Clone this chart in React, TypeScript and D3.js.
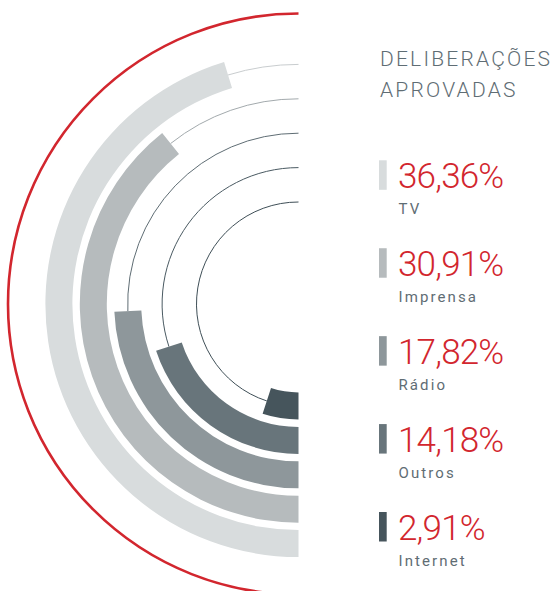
import React from "react";
import * as d3 from "d3";

const categories = ["TV", "Imprensa", "Rádio", "Outros", "Internet"];
const percents = [36.36, 30.91, 17.82, 14.18, 2.91];
const colors = ["#d8dcdd", "#b6bbbd", "#8e979b", "#68757b", "#46555c"];
const lineColors = ["#c9cdcf", "#a3aaad", "#5f6d74", "#4a5a62", "#3f4f57"];
const titleLines = ["DELIBERAÇÕES", "APROVADAS"];

const W = 556;
const H = 591;
const cx = 298.5;
const cy = 304;
const barW = 27;
const redR = 290.5;

const locale = d3.formatLocale({ decimal: ",", thousands: ".", grouping: [3], currency: ["", "€"] });
const fmt = locale.format(".2f");

export default function App() {
  const rScale = d3.scalePoint<string>().domain(categories).range([239.6, 102]);
  const aScale = d3.scalePow().exponent(0.87).domain([0, 40]).range([0, (177 * Math.PI) / 180]);
  const arc = d3.arc<any>();

  const redPath = d3.path();
  redPath.arc(cx, cy, redR, Math.PI / 2, (3 * Math.PI) / 2, false);

  const legendY = d3.scaleLinear().domain([0, 4]).range([188.3, 540]);

  return (
    <svg
      width={W}
      height={H}
      style={{ position: "absolute", left: 0, top: 0, background: "#fff" }}
    >
      <path d={redPath.toString()} fill="none" stroke="#d2262e" strokeWidth={2.6} />
      {categories.map((c, i) => {
        const r = rScale(c) as number;
        const a0 = Math.PI;
        const a1 = Math.PI + aScale(percents[i]);
        const lp = d3.path();
        lp.arc(cx, cy, r, a1 - Math.PI / 2, (3 * Math.PI) / 2, false);
        const d = arc({
          innerRadius: r - barW / 2,
          outerRadius: r + barW / 2,
          startAngle: a0,
          endAngle: a1,
        }) as string;
        return (
          <g key={c}>
            <path d={lp.toString()} fill="none" stroke={lineColors[i]} strokeWidth={1} />
            <path d={d} transform={`translate(${cx},${cy})`} fill={colors[i]} />
          </g>
        );
      })}
      {titleLines.map((t, i) => (
        <text
          key={t}
          x={380}
          y={66 + i * 30.7}
          fontFamily="Roboto"
          fontWeight={300}
          fontSize={21}
          letterSpacing={2.2}
          fill="#5f6d74"
        >
          {t}
        </text>
      ))}
      {categories.map((c, i) => {
        const y = legendY(i);
        return (
          <g key={"l" + c}>
            <rect x={379} y={y - 28} width={7.7} height={29.5} fill={colors[i]} />
            <text
              x={398}
              y={y}
              fontFamily="Roboto"
              fontWeight={300}
              fontSize={35}
              letterSpacing={-0.8}
              fill="#d2262e"
            >
              {fmt(percents[i]) + "%"}
            </text>
            <text
              x={398.5}
              y={y + 26}
              fontFamily="Roboto"
              fontWeight={400}
              fontSize={15}
              letterSpacing={2.1}
              fill="#5f6d74"
            >
              {c}
            </text>
          </g>
        );
      })}
    </svg>
  );
}
